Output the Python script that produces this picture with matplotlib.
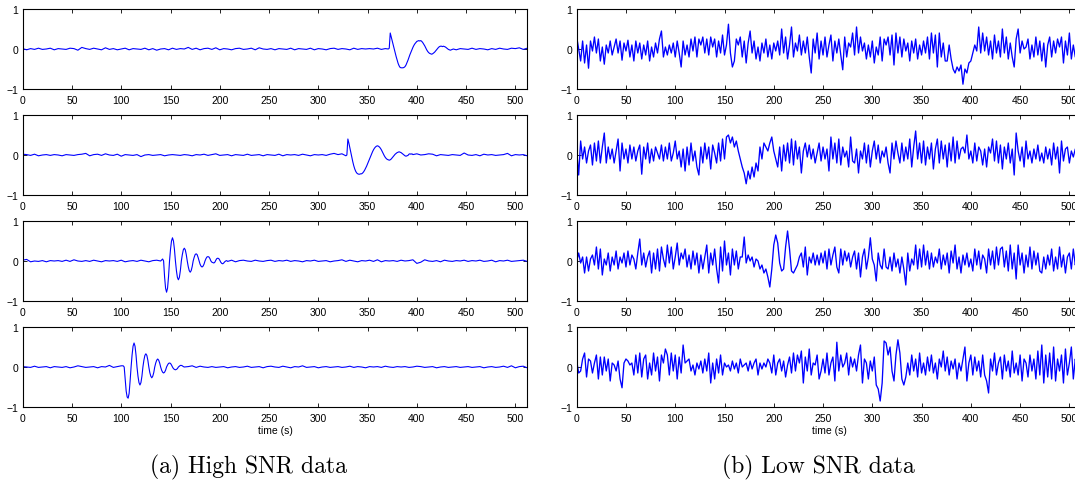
import numpy as np
import matplotlib
matplotlib.use("Agg")
import matplotlib.pyplot as plt

plt.rcParams['font.family'] = ['Liberation Sans', 'DejaVu Sans']

# ---- high SNR data: baseline every 4 s, event wavelet every 1 s ----
hi1_base = [
    0.01, -0.02, 0.01, -0.01, 0.02, -0.01, 0.0, 0.02, -0.02, 0.01, 0.0, -0.01, 0.02, 0.01, -0.03, 0.04,
    0.01, -0.01, 0.02, 0.0, -0.02, 0.03, -0.01, 0.01, -0.02, 0.0, 0.02, -0.02, 0.01, 0.0, -0.01, 0.02,
    -0.02, 0.01, -0.03, 0.0, 0.01, -0.02, 0.02, -0.01, 0.01, 0.0, 0.04, -0.01, 0.02, -0.02, 0.01, 0.02,
    -0.01, 0.03, -0.02, 0.01, 0.0, -0.02, 0.01, 0.02, -0.01, 0.0, 0.02, -0.02, 0.03, 0.0, -0.01, 0.01,
    -0.02, 0.01, 0.0, -0.01, 0.02, -0.02, 0.01, 0.0, -0.01, 0.02, -0.02, 0.01, 0.0, -0.02, 0.01, 0.02,
    -0.01, 0.01, 0.0, -0.02, 0.02, -0.01, 0.01, 0.0, 0.01, 0.0, 0.02, -0.01, 0.01, 0.0, 0.01, 0.0,
    0.01, -0.01, 0.0, 0.01, 0.0, -0.01, 0.01, 0.0, -0.01, 0.01, 0.0, -0.01, 0.01, 0.0, -0.02, 0.01,
    0.0, -0.01, 0.02, -0.01, 0.01, 0.0, -0.02, 0.01, -0.01, 0.02, 0.0, -0.01, 0.02, 0.01, 0.03, -0.01,
    0.02]
hi1_start = 371
hi1_event = [
    0.0, 0.02, 0.4, 0.3, 0.2, 0.1, 0.0, -0.1, -0.19, -0.28, -0.36, -0.42, -0.46, -0.47, -0.47, -0.47,
    -0.46, -0.44, -0.4, -0.34, -0.28, -0.21, -0.14, -0.08, -0.02, 0.04, 0.09, 0.13, 0.16, 0.19, 0.2, 0.21,
    0.2, 0.21, 0.19, 0.16, 0.12, 0.08, 0.03, -0.02, -0.06, -0.09, -0.11, -0.12, -0.13, -0.12, -0.1, -0.08,
    -0.05, -0.02, 0.01, 0.04, 0.06, 0.07, 0.07, 0.06, 0.07, 0.06, 0.05, 0.03, 0.01, -0.01, -0.02, -0.03,
    -0.02, -0.01, 0.0]

hi2_base = [
    0.02, 0.01, -0.01, 0.02, -0.02, 0.0, 0.01, -0.01, 0.01, 0.0, -0.02, 0.01, 0.0, -0.01, 0.01, 0.02,
    0.04, -0.02, 0.01, 0.02, -0.01, 0.03, 0.0, -0.01, 0.02, -0.03, 0.01, 0.0, -0.01, 0.01, -0.04, 0.0,
    0.01, -0.01, 0.0, 0.01, -0.02, 0.0, 0.01, 0.0, -0.01, 0.01, 0.0, -0.02, 0.01, 0.0, 0.02, -0.01,
    0.01, 0.03, -0.01, 0.0, 0.01, -0.02, 0.01, 0.0, -0.01, 0.02, -0.01, 0.0, 0.01, -0.02, 0.01, 0.0,
    -0.01, 0.02, -0.02, 0.01, 0.0, 0.01, -0.01, 0.02, 0.0, -0.02, 0.01, 0.0, 0.01, -0.01, 0.02, 0.04,
    0.01, 0.03, 0.0, 0.01, -0.01, 0.02, 0.0, 0.01, -0.01, 0.0, 0.01, -0.01, 0.0, 0.01, 0.0, 0.01,
    0.02, 0.01, 0.03, 0.02, 0.03, 0.0, 0.01, 0.03, 0.02, -0.02, 0.01, 0.0, -0.01, 0.01, 0.0, -0.01,
    0.05, 0.0, -0.01, 0.01, -0.02, 0.02, 0.0, 0.01, -0.01, 0.0, 0.01, 0.04, -0.02, 0.01, 0.0, 0.01,
    -0.02]
hi2_start = 328
hi2_event = [
    -0.02, 0.0, 0.4, 0.3, 0.18, 0.06, -0.06, -0.17, -0.27, -0.35, -0.41, -0.45, -0.47, -0.48, -0.48, -0.47,
    -0.47, -0.45, -0.42, -0.38, -0.33, -0.28, -0.22, -0.16, -0.1, -0.04, 0.02, 0.08, 0.13, 0.17, 0.2, 0.22,
    0.23, 0.22, 0.2, 0.17, 0.13, 0.08, 0.03, -0.02, -0.06, -0.09, -0.11, -0.12, -0.13, -0.12, -0.1, -0.07,
    -0.04, -0.01, 0.02, 0.04, 0.06, 0.07, 0.08, 0.07, 0.06, 0.04, 0.02, 0.0, -0.02, -0.03, -0.02, -0.01,
    0.02, 0.03, 0.02, 0.03, 0.01]

hi3_base = [
    0.02, 0.04, -0.02, 0.0, -0.01, 0.01, -0.02, 0.01, 0.0, 0.01, -0.01, 0.02, -0.01, 0.03, 0.0, -0.01,
    0.01, -0.01, 0.02, 0.0, -0.02, 0.01, 0.0, 0.01, -0.01, 0.02, -0.02, 0.0, 0.01, -0.01, 0.02, 0.0,
    -0.02, 0.01, 0.02, 0.0, 0.01, 0.0, 0.01, -0.01, 0.0, 0.01, 0.0, -0.01, 0.01, 0.0, -0.01, 0.01,
    0.0, 0.01, -0.01, 0.0, -0.01, 0.02, -0.02, 0.01, 0.02, 0.0, -0.01, 0.02, 0.0, -0.01, 0.01, 0.02,
    -0.01, 0.01, 0.0, 0.02, -0.01, 0.01, 0.0, -0.02, 0.01, 0.0, 0.02, -0.01, 0.0, 0.01, -0.02, 0.0,
    0.01, 0.03, -0.01, 0.02, 0.0, -0.02, 0.01, 0.0, 0.02, -0.01, 0.03, -0.02, 0.01, 0.0, 0.01, -0.01,
    0.02, 0.0, 0.01, 0.03, -0.06, -0.03, 0.03, 0.0, -0.01, 0.01, -0.02, 0.02, 0.0, -0.01, 0.01, 0.0,
    0.02, -0.01, 0.01, 0.0, 0.02, -0.01, 0.0, 0.02, -0.02, 0.01, 0.0, 0.02, -0.01, 0.0, 0.01, 0.02,
    -0.01]
hi3_start = 142
hi3_event = [
    0.05, 0.0, -0.4, -0.68, -0.78, -0.68, -0.39, 0.0, 0.29, 0.5, 0.58, 0.5, 0.29, 0.0, -0.24, -0.41,
    -0.47, -0.41, -0.24, 0.0, 0.16, 0.28, 0.32, 0.28, 0.16, 0.0, -0.14, -0.24, -0.28, -0.24, -0.14, 0.0,
    0.09, 0.16, 0.18, 0.16, 0.09, 0.0, -0.08, -0.13, -0.15, -0.13, -0.08, 0.0, 0.06, 0.1, 0.11, 0.1,
    0.06, 0.0, -0.03, -0.04, -0.05, -0.03, 0.02, 0.06, 0.07, 0.06, 0.02, -0.03, -0.06, -0.07, -0.05, -0.02,
    0.0, 0.01]

hi4_base = [
    0.01, 0.0, -0.01, 0.02, -0.01, 0.0, 0.01, -0.02, 0.01, 0.0, -0.01, 0.01, -0.02, 0.0, 0.03, 0.01,
    -0.01, 0.0, 0.01, -0.02, 0.01, 0.0, 0.04, -0.01, 0.01, 0.03, -0.01, 0.0, 0.02, 0.0, 0.01, 0.0,
    0.01, 0.0, -0.01, 0.0, 0.01, 0.0, -0.01, 0.0, 0.01, 0.0, 0.01, 0.03, -0.01, 0.02, 0.0, -0.01,
    0.01, -0.01, 0.0, 0.01, -0.02, 0.0, 0.01, -0.01, 0.0, 0.02, -0.01, 0.0, 0.01, -0.02, 0.01, 0.02,
    0.0, -0.01, 0.02, 0.0, -0.02, 0.01, 0.0, 0.03, -0.01, 0.0, 0.01, -0.02, 0.0, 0.01, -0.01, 0.0,
    0.01, -0.01, 0.0, 0.02, -0.01, 0.01, 0.0, -0.02, 0.01, 0.0, 0.01, -0.01, 0.02, 0.0, -0.01, 0.01,
    0.0, 0.01, -0.01, 0.0, 0.02, 0.01, -0.01, 0.0, 0.01, -0.02, 0.0, 0.01, -0.01, 0.0, 0.01, -0.01,
    0.0, 0.01, -0.01, 0.0, 0.01, -0.02, 0.0, 0.01, -0.01, 0.0, 0.02, -0.01, 0.03, -0.02, 0.01, 0.02,
    -0.02]
hi4_start = 102
hi4_event = [
    0.03, 0.0, -0.3, -0.6, -0.75, -0.78, -0.66, -0.35, 0.0, 0.3, 0.52, 0.6, 0.52, 0.3, 0.0, -0.23,
    -0.39, -0.45, -0.39, -0.23, 0.0, 0.17, 0.29, 0.33, 0.29, 0.17, 0.0, -0.14, -0.23, -0.27, -0.23, -0.14,
    0.0, 0.1, 0.17, 0.2, 0.17, 0.1, 0.0, -0.08, -0.13, -0.15, -0.13, -0.08, 0.0, 0.05, 0.09, 0.1,
    0.09, 0.05, 0.0, -0.04, -0.06, -0.07, -0.06, -0.04, 0.0, 0.02, 0.04, 0.04, 0.03, 0.01, 0.0]

# ---- low SNR data: one value every 2 s, 0..512 ----
lo1 = [
    0.3, 0.0, -0.3, 0.2, -0.35, 0.1, -0.48, 0.2, -0.05, 0.3, -0.1, 0.25, -0.3, 0.05, -0.38, 0.1,
    -0.1, 0.2, -0.15, 0.05, 0.25, -0.1, 0.2, -0.28, 0.15, -0.05, 0.22, -0.2, 0.1, -0.3, 0.2, -0.1,
    0.15, -0.25, 0.1, -0.15, 0.2, -0.3, 0.05, -0.2, 0.15, -0.1, 0.25, 0.45, -0.2, 0.05, -0.15, 0.1,
    -0.1, 0.15, -0.2, 0.2, -0.1, -0.45, 0.2, -0.15, 0.1, -0.2, 0.25, -0.05, 0.3, -0.2, 0.25, 0.1,
    0.3, -0.1, 0.25, -0.15, 0.3, 0.05, 0.25, -0.2, 0.2, -0.1, 0.35, -0.15, 0.1, 0.62, -0.1, -0.45,
    -0.3, 0.25, 0.1, 0.3, -0.2, 0.2, -0.35, 0.15, 0.45, -0.1, 0.2, -0.25, 0.05, -0.3, 0.15, -0.1,
    0.25, -0.2, 0.1, -0.25, 0.15, -0.05, 0.2, -0.15, 0.5, -0.1, 0.3, -0.25, 0.1, 0.55, -0.2, 0.15,
    -0.05, 0.35, -0.15, 0.2, -0.1, 0.3, -0.2, -0.6, 0.25, -0.1, 0.4, -0.25, 0.2, -0.15, 0.3, -0.2,
    0.1, 0.35, -0.3, 0.2, -0.1, 0.25, -0.15, -0.52, 0.3, -0.2, 0.15, 0.05, 0.4, -0.15, 0.55, -0.1,
    0.3, -0.05, 0.15, -0.25, 0.1, -0.2, 0.2, -0.35, 0.05, -0.15, 0.3, -0.3, 0.25, 0.1, 0.3, -0.15,
    0.35, -0.4, 0.4, -0.1, 0.3, -0.2, 0.25, -0.05, 0.15, -0.3, 0.2, -0.1, 0.25, -0.25, 0.1, -0.15,
    0.2, -0.1, 0.3, -0.25, 0.4, -0.1, 0.35, -0.45, 0.4, -0.2, 0.15, -0.3, -0.3, 0.1, -0.25, -0.5,
    -0.6, -0.45, -0.55, -0.4, -0.88, -0.5, -0.6, -0.35, -0.3, -0.1, 0.1, -0.05, 0.55, -0.1, 0.4, -0.05,
    0.3, -0.15, 0.2, -0.25, 0.35, -0.1, 0.2, -0.2, 0.5, -0.1, 0.3, -0.25, 0.15, -0.2, -0.45, 0.25,
    0.5, -0.1, 0.2, 0.0, 0.05, 0.25, -0.25, 0.1, -0.2, 0.3, -0.15, 0.2, -0.3, 0.15, -0.45, 0.1,
    0.3, -0.2, 0.2, -0.1, 0.25, 0.05, 0.3, -0.35, 0.2, -0.15, 0.4, -0.25, 0.1, -0.2, 0.35, 0.05,
    0.3]
lo2 = [
    0.1, -0.5, 0.35, -0.1, 0.2, -0.2, 0.1, 0.25, -0.25, 0.3, -0.15, 0.35, -0.2, 0.2, 0.55, -0.2,
    0.2, -0.1, 0.15, -0.2, 0.1, 0.4, -0.4, 0.3, -0.1, 0.15, -0.2, 0.25, -0.1, 0.2, -0.15, 0.1,
    0.25, -0.48, 0.2, -0.1, 0.3, -0.2, 0.15, -0.15, 0.2, 0.05, -0.1, 0.25, -0.15, 0.2, -0.1, 0.3,
    -0.15, 0.05, 0.35, -0.1, 0.1, -0.3, 0.15, -0.4, 0.2, -0.25, 0.3, -0.15, 0.1, -0.3, -0.5, 0.2,
    -0.2, 0.3, -0.1, 0.2, -0.35, 0.25, 0.05, -0.2, 0.3, -0.15, 0.4, -0.1, 0.45, 0.5, 0.3, 0.45,
    0.2, 0.35, 0.1, -0.1, -0.3, -0.45, -0.72, -0.4, -0.6, -0.3, -0.55, -0.2, -0.4, 0.2, -0.1, 0.3,
    0.2, 0.1, 0.3, 0.45, 0.1, -0.1, -0.3, 0.2, -0.4, 0.25, -0.15, 0.3, -0.2, 0.4, -0.25, 0.35,
    -0.1, 0.2, -0.45, 0.1, 0.3, -0.05, 0.25, -0.1, 0.15, -0.2, 0.05, 0.3, -0.15, 0.2, -0.1, 0.15,
    -0.4, 0.45, -0.1, 0.3, -0.2, 0.4, -0.25, 0.2, -0.05, 0.1, -0.3, 0.45, -0.15, -0.2, 0.15, -0.45,
    0.1, -0.1, 0.3, -0.2, 0.25, -0.3, 0.1, 0.35, -0.1, 0.25, -0.2, 0.1, -0.05, 0.2, -0.2, -0.45,
    0.3, -0.1, 0.35, 0.05, -0.2, 0.3, -0.15, 0.2, -0.1, 0.4, -0.3, 0.2, 0.6, -0.1, 0.3, -0.2,
    0.35, -0.25, 0.2, -0.1, 0.3, -0.35, 0.15, 0.4, -0.2, 0.35, -0.1, 0.25, -0.3, 0.3, -0.15, 0.45,
    -0.2, 0.35, -0.1, 0.15, 0.2, 0.05, 0.5, -0.1, 0.1, -0.2, 0.3, -0.15, 0.2, 0.1, -0.25, 0.15,
    -0.3, 0.2, 0.05, 0.4, -0.15, 0.35, -0.2, 0.25, -0.35, 0.2, -0.1, 0.3, -0.2, 0.15, -0.5, 0.55,
    0.1, -0.15, 0.2, -0.3, 0.35, -0.1, 0.1, -0.2, 0.15, -0.1, 0.25, -0.15, 0.05, -0.2, 0.2, -0.1,
    0.15, -0.25, 0.3, -0.1, 0.2, -0.45, 0.35, -0.15, 0.15, 0.2, -0.2, 0.1, -0.05, 0.15, -0.1, 0.05,
    0.1]
lo3 = [
    0.0, 0.2, -0.05, 0.1, -0.3, 0.1, -0.25, 0.05, 0.15, -0.1, 0.35, -0.2, 0.3, -0.35, 0.05, -0.1,
    0.2, -0.25, 0.1, -0.1, 0.25, -0.2, 0.1, -0.05, 0.2, -0.15, 0.25, -0.1, 0.15, 0.05, -0.2, 0.2,
    0.55, -0.1, 0.2, -0.15, 0.1, 0.25, -0.3, 0.2, -0.2, 0.3, -0.25, 0.35, 0.05, -0.15, 0.4, -0.05,
    0.35, -0.2, 0.1, 0.45, -0.1, 0.2, 0.05, 0.3, -0.15, 0.15, -0.2, 0.25, -0.1, 0.2, -0.3, 0.15,
    -0.2, 0.1, 0.4, -0.3, 0.2, -0.1, 0.3, -0.2, -0.55, 0.35, -0.25, 0.5, -0.1, 0.2, -0.35, 0.3,
    -0.1, 0.25, -0.2, 0.1, 0.1, 0.6, -0.05, 0.15, 0.0, 0.1, -0.15, 0.05, 0.0, -0.2, -0.1, -0.3,
    -0.2, -0.4, -0.65, -0.2, 0.4, 0.65, 0.45, -0.05, -0.25, -0.2, 0.35, 0.75, 0.3, -0.25, -0.3, -0.2,
    -0.1, 0.1, 0.2, -0.15, 0.35, -0.35, 0.1, -0.05, 0.2, -0.1, 0.15, -0.1, 0.2, -0.05, 0.25, -0.2,
    0.3, -0.1, 0.15, 0.35, -0.15, -0.3, 0.3, -0.1, 0.25, 0.0, 0.2, -0.15, 0.1, 0.25, -0.2, 0.2,
    -0.4, 0.1, 0.3, -0.2, 0.1, 0.58, 0.05, -0.1, -0.5, 0.2, -0.1, -0.2, 0.3, -0.15, -0.2, 0.1,
    -0.25, 0.2, -0.15, 0.05, -0.3, 0.1, -0.2, -0.6, 0.2, -0.25, 0.05, -0.1, 0.4, -0.2, 0.3, -0.15,
    0.4, -0.1, 0.25, -0.2, 0.2, -0.15, 0.1, -0.05, 0.3, -0.2, 0.15, -0.1, 0.2, -0.3, 0.25, -0.05,
    0.4, -0.2, 0.1, -0.3, 0.15, -0.1, 0.2, -0.15, 0.05, -0.25, 0.3, -0.1, 0.25, -0.2, 0.15, 0.05,
    -0.3, 0.3, -0.1, 0.25, -0.2, 0.35, -0.1, 0.3, 0.35, -0.15, 0.25, -0.25, 0.4, -0.2, 0.2, -0.45,
    0.4, -0.1, 0.2, -0.3, 0.15, -0.15, 0.35, -0.2, 0.25, -0.1, 0.2, -0.25, -0.3, 0.1, -0.2, 0.15,
    -0.1, 0.3, -0.25, 0.1, -0.2, 0.35, -0.15, 0.15, -0.3, 0.1, 0.2, -0.2, 0.3, -0.1, 0.15, 0.05,
    0.1]
lo4 = [
    0.15, -0.15, -0.1, 0.2, 0.35, -0.25, 0.2, 0.15, -0.15, 0.1, 0.3, -0.3, 0.25, -0.2, 0.25, -0.1,
    0.2, -0.35, 0.1, 0.05, -0.1, 0.15, -0.3, -0.52, 0.1, 0.2, 0.15, 0.05, 0.1, -0.2, 0.3, -0.15,
    0.35, -0.25, 0.2, 0.3, -0.3, 0.1, -0.2, 0.35, -0.1, 0.25, -0.35, 0.3, 0.1, 0.45, 0.3, -0.2,
    0.35, -0.1, 0.3, -0.3, 0.25, -0.15, 0.55, 0.1, 0.15, 0.2, -0.1, 0.05, -0.2, 0.1, -0.05, 0.15,
    -0.15, 0.2, -0.1, 0.35, -0.4, 0.1, -0.3, 0.2, -0.15, 0.3, -0.2, 0.1, 0.0, 0.05, -0.1, 0.15,
    -0.05, 0.1, -0.15, 0.2, 0.0, 0.05, 0.1, -0.1, 0.15, -0.05, 0.1, 0.2, -0.2, 0.1, -0.05, 0.1,
    0.0, 0.2, 0.1, -0.15, 0.3, -0.2, 0.1, 0.2, -0.1, 0.15, -0.25, 0.05, 0.25, -0.15, 0.35, -0.1,
    0.3, 0.1, 0.4, -0.4, 0.25, -0.1, 0.45, -0.2, 0.1, 0.05, 0.3, -0.3, -0.1, 0.2, -0.15, 0.35,
    -0.2, 0.1, 0.25, -0.35, 0.62, -0.1, 0.3, 0.0, 0.1, 0.35, -0.2, 0.25, 0.0, 0.2, -0.1, 0.3,
    0.55, -0.4, 0.2, 0.1, -0.3, 0.15, -0.1, 0.25, -0.45, -0.55, -0.85, -0.4, 0.65, 0.6, 0.3, 0.5,
    -0.1, -0.35, 0.3, 0.68, 0.35, -0.3, -0.45, -0.25, 0.1, -0.2, 0.3, -0.1, 0.2, -0.25, 0.35, -0.15,
    0.1, -0.2, 0.25, -0.1, 0.3, -0.15, 0.1, -0.3, 0.2, 0.0, 0.4, -0.1, 0.25, -0.2, 0.15, -0.05,
    0.2, -0.3, 0.1, -0.1, 0.2, 0.5, -0.35, 0.1, 0.3, -0.2, 0.25, -0.1, 0.15, -0.25, 0.3, -0.2,
    -0.35, -0.65, 0.2, -0.1, 0.35, -0.2, 0.1, 0.25, -0.3, 0.3, -0.1, 0.15, -0.25, 0.4, -0.15, 0.1,
    -0.2, 0.3, -0.35, 0.2, 0.1, -0.25, 0.3, -0.1, 0.2, -0.3, 0.4, -0.2, 0.55, -0.4, 0.3, -0.25,
    0.35, -0.3, 0.5, -0.35, 0.2, -0.1, 0.3, -0.4, 0.45, -0.2, 0.1, 0.5, -0.3, 0.2, -0.1, 0.3,
    0.0]

xticks = list(range(0, 501, 50))
captions = ["(a) High SNR data", "(b) Low SNR data"]


def join_trace(base, start, event):
    tb = np.arange(len(base)) * 4
    te = start + np.arange(len(event))
    keep = (tb < te[0]) | (tb > te[-1])
    t = np.concatenate([tb[keep], te])
    y = np.concatenate([np.array(base)[keep], event])
    order = np.argsort(t)
    return t[order], y[order]


high = [join_trace(hi1_base, hi1_start, hi1_event),
        join_trace(hi2_base, hi2_start, hi2_event),
        join_trace(hi3_base, hi3_start, hi3_event),
        join_trace(hi4_base, hi4_start, hi4_event)]
t_lo = np.arange(len(lo1)) * 2
low = [(t_lo, np.array(v)) for v in (lo1, lo2, lo3, lo4)]

W, H = 1075, 485
fig = plt.figure(figsize=(W / 100, H / 100), dpi=100)

col_x = [22.7, 576.7]
col_w = 504.5
row_top = [10, 116, 222, 328]
row_h = 80
line_w = [0.8, 0.95]

for c, traces in enumerate([high, low]):
    for r, (t, y) in enumerate(traces):
        ax = fig.add_axes([col_x[c] / W, 1 - (row_top[r] + row_h) / H, col_w / W, row_h / H])
        ax.plot(t, y, color='#0000ff', lw=line_w[c])
        ax.set_xlim(0, 512)
        ax.set_ylim(-1, 1)
        ax.set_xticks(xticks)
        ax.set_yticks([-1, 0, 1])
        ax.tick_params(direction='in', top=True, right=True, length=3, width=0.6,
                       labelsize=7.5, pad=3)
        ax.tick_params(axis='x', pad=4.5)
        for s in ax.spines.values():
            s.set_linewidth(0.8)
        if r == 3:
            ax.set_xlabel("time (s)", fontsize=7.5, labelpad=1.5)

fig.text(248 / W, 1 - 467 / H, captions[0], family='cmr10', fontsize=17,
         ha='center', va='center')
fig.text(818 / W, 1 - 467 / H, captions[1], family='cmr10', fontsize=17,
         ha='center', va='center')

fig.savefig("out.png", dpi=100)
